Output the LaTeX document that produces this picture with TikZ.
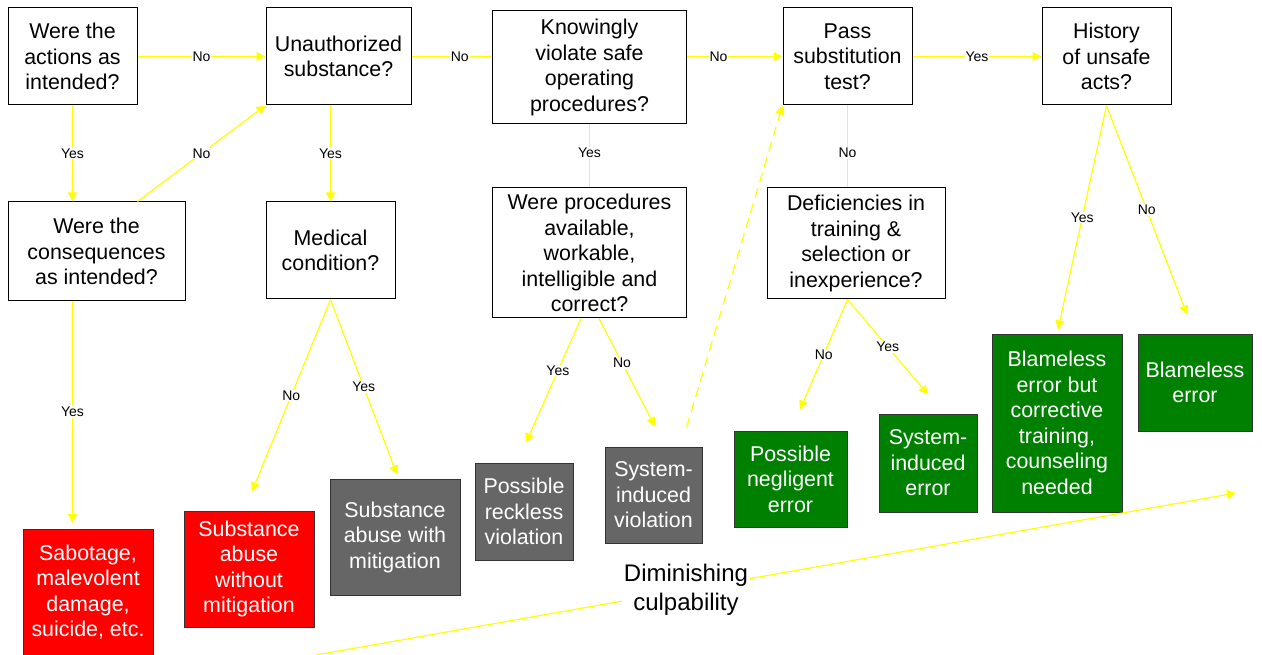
\documentclass[tikz,border=0pt]{standalone}
\usepackage{fontspec}
\setmainfont{Liberation Sans}
\usetikzlibrary{arrows.meta,calc}
\definecolor{yel}{HTML}{FFFF00}
\definecolor{redf}{HTML}{FF0000}
\definecolor{grayf}{HTML}{666666}
\definecolor{greenf}{HTML}{008000}
\definecolor{bord}{HTML}{333333}
\tikzset{
  box/.style={draw=black, line width=1pt, inner sep=0pt, align=center, font=\fontsize{21.4}{25.5}\selectfont},
  qbox/.style={box, fill=white},
  redbox/.style={box, fill=redf, draw=bord, text=white},
  graybox/.style={box, fill=grayf, draw=bord, text=white},
  greenbox/.style={box, fill=greenf, draw=bord, text=white},
  wtext/.style={inner sep=0pt, align=center, text=white, font=\fontsize{21.4}{25.5}\selectfont},
  conn/.style={draw=yel, line width=1.2pt},
  arr/.style={conn, -{Triangle[length=9pt,width=9pt]}},
  lbl/.style={fill=white, inner sep=1pt, font=\fontsize{14}{16}\selectfont, text=black},
}
\begin{document}
\begin{tikzpicture}[x=1pt,y=-1pt]
\useasboundingbox (0,0) rectangle (1262,655);
\clip (0,0) rectangle (1262,655);
% question boxes
\node[qbox, minimum width=129pt, minimum height=97pt] (a) at (72.5,56.5) {Were the\\actions as\\intended?};
\node[qbox, minimum width=145pt, minimum height=97pt] (b) at (338.5,56.5) {Unauthorized\\substance?};
\node[qbox, minimum width=194pt, minimum height=113pt] (c) at (589.5,67.5) {Knowingly\\violate safe\\operating\\procedures?};
\node[qbox, minimum width=129pt, minimum height=97pt] (d) at (847.5,56.5) {Pass\\substitution\\test?};
\node[qbox, minimum width=129pt, minimum height=97pt] (e) at (1106.5,56.5) {History\\of unsafe\\acts?};
\node[qbox, minimum width=177pt, minimum height=99pt] (f) at (96.5,251.5) {Were the\\consequences\\as intended?};
\node[qbox, minimum width=129pt, minimum height=97pt] (g) at (330.5,250.5) {Medical\\condition?};
\node[qbox, minimum width=194pt, minimum height=130pt] (h) at (589.5,253) {Were procedures\\available,\\workable,\\intelligible and\\correct?};
\node[qbox, minimum width=178pt, minimum height=111pt] (i) at (856,243.5) {Deficiencies in\\training \&\\selection or\\inexperience?};
% outcome boxes
\node[redbox, minimum width=130pt, minimum height=140pt, anchor=north] (o1) at (88,529) {};
\node[wtext] (o1t) at (88,592) {Sabotage,\\malevolent\\damage,\\suicide, etc.};
\node[redbox, minimum width=130pt, minimum height=116pt] (o2) at (249,569) {Substance\\abuse\\without\\mitigation};
\node[graybox, minimum width=130pt, minimum height=116pt] (o3) at (395,537) {Substance\\abuse with\\mitigation};
\node[graybox, minimum width=98pt, minimum height=97pt] (o4) at (524,511.5) {Possible\\reckless\\violation};
\node[graybox, minimum width=97pt, minimum height=96pt] (o5) at (653.5,495) {System-\\induced\\violation};
\node[greenbox, minimum width=113pt, minimum height=96pt] (o6) at (790.5,479) {Possible\\negligent\\error};
\node[greenbox, minimum width=98pt, minimum height=98pt] (o7) at (928,463) {System-\\induced\\error};
\node[greenbox, minimum width=130pt, minimum height=178pt] (o8) at (1057,423) {Blameless\\error but\\corrective\\training,\\counseling\\needed};
\node[greenbox, minimum width=114pt, minimum height=97pt] (o9) at (1195,382.5) {Blameless\\error};
% connectors
\draw[arr] (a.east) -- node[lbl]{No} (b.west);
\draw[arr] (a.south) -- node[lbl]{Yes} (a.south |- f.north);
\draw[arr] ($(f.north west)+(130,0)$) -- node[lbl]{No} (b.south west);
\draw[arr] (g.north |- b.south) -- node[lbl]{Yes} (g.north);
\draw[conn] (b.east) -- node[lbl,pos=0.6]{No} (c.west |- b.east);
\draw[arr] (c.east |- d.west) -- node[lbl,pos=0.33]{No} (d.west);
\draw[arr] (d.east) -- node[lbl]{Yes} (e.west);
\draw[conn] (c.south) -- node[lbl,pos=0.45]{Yes} (h.north);
\draw[conn] (d.south) -- node[lbl,pos=0.58]{No} (d.south |- i.north);
\draw[arr] (e.south) -- node[lbl]{Yes} ($(o8.north)+(1,-4)$);
\draw[arr] (e.south) -- node[lbl]{No} ($(o9.north)+(-8,-19)$);
\draw[arr] (a.south |- f.south) -- node[lbl]{Yes} ($(a.south |- o1.north)+(0,-6)$);
\draw[arr] (g.south) -- node[lbl]{No} ($(o2.north)+(3,-19)$);
\draw[arr] (g.south) -- node[lbl]{Yes} ($(o3.north)+(2,-4)$);
\draw[arr] ($(h.south)+(-8.5,0)$) -- node[lbl,pos=0.42]{Yes} ($(o4.north)+(2,-20)$);
\draw[arr] ($(h.south)+(9.5,0)$) -- node[lbl,pos=0.41]{No} ($(o5.north)+(1.5,-20)$);
\draw[arr, dash pattern=on 10pt off 6pt] ($(o5.north east)+(-16,-19)$) -- (d.south west);
\draw[arr] (d.south |- i.south) -- node[lbl]{No} ($(o6.north)+(9.5,-21)$);
\draw[arr] (d.south |- i.south) -- node[lbl]{Yes} ($(o7.north)+(0,-19)$);
% diminishing culpability
\coordinate (ds) at (316,655);
\coordinate (de) at (1236,493);
\draw[arr] (ds) -- (de);
\node[fill=white, inner sep=2pt, align=center, font=\fontsize{24}{29}\selectfont] (dim) at (686,590) {Diminishing\\culpability};
\end{tikzpicture}
\end{document}
